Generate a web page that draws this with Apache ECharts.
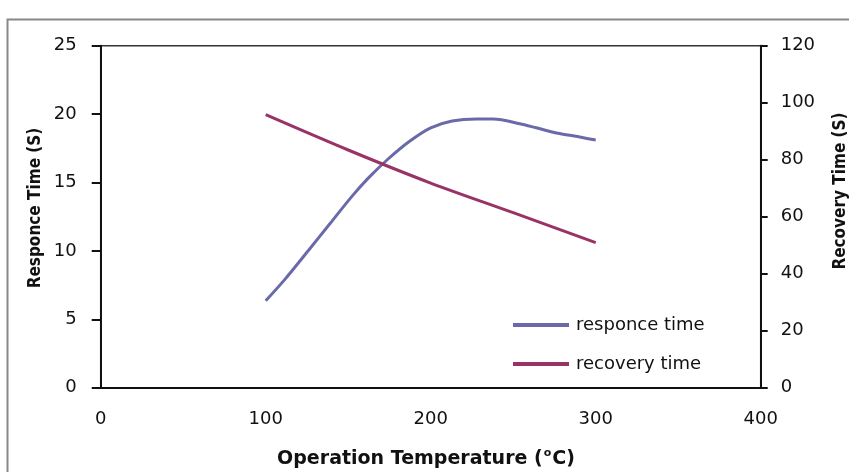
<!DOCTYPE html>
<html><head><meta charset="utf-8">
<script src="https://cdn.jsdelivr.net/npm/echarts@6/dist/echarts.min.js"></script>
<style>html,body{margin:0;padding:0;background:#fff}#c{width:849px;height:472px}</style>
</head><body><div id="c"></div>
<script>
const temps = [100, 111.5, 126, 139, 152, 162, 174, 187, 200, 213, 228, 238, 254, 264, 277, 287, 300];
const responceTime = [6.35, 7.9, 10.05, 12.0, 13.95, 15.3, 16.7, 18.0, 19.0, 19.5, 19.65, 19.65, 19.3, 19.0, 18.6, 18.4, 18.1];
const recTemps = [100, 150, 200, 250, 300];
const recoveryTime = [95.8, 83.4, 71.8, 61.4, 50.9];
const xTicks = [0, 100, 200, 300, 400];

const chart = echarts.init(document.getElementById('c'));
const tickFont = {fontFamily: 'DejaVu Sans', fontSize: 18, color: '#111'};
const narrowBold = 'bold 17px "Liberation Sans Narrow", "DejaVu Sans Condensed", sans-serif';
chart.setOption({
  animation: false,
  graphic: [
    {type: 'rect', shape: {x: 7.5, y: 19.5, width: 900, height: 500}, style: {fill: 'none', stroke: '#888', lineWidth: 2}, z: -1},
    {type: 'text', x: 36, y: 208, rotation: Math.PI/2,
     style: {text: 'Responce Time (S)', font: narrowBold, fill: '#111', textAlign: 'center', textVerticalAlign: 'middle'}},
    {type: 'text', x: 841, y: 191, rotation: Math.PI/2,
     style: {text: 'Recovery Time (S)', font: narrowBold, fill: '#111', textAlign: 'center', textVerticalAlign: 'middle'}},
    {type: 'text', x: 426, y: 459,
     style: {text: '{a|Operation Temperature (}{s|o}{a|C)}', fill: '#111', textAlign: 'center', textVerticalAlign: 'middle',
       rich: {a: {fontFamily: 'DejaVu Sans', fontWeight: 'bold', fontSize: 19, color: '#111', height: 22},
              s: {fontFamily: 'DejaVu Sans', fontWeight: 'bold', fontSize: 11, color: '#111', height: 22, padding: [0, 1, 12, 1]}}}}
  ],
  grid: {left: 100.7, right: 88.3, top: 45.7, bottom: 84.3, show: true, borderColor: '#333', borderWidth: 1.5},
  legend: {
    orient: 'vertical', left: 508, top: 311, itemWidth: 56, itemHeight: 4, itemGap: 21,
    icon: 'rect',
    textStyle: {fontFamily: 'DejaVu Sans', fontSize: 18, color: '#111', padding: [0, 0, 0, 2]},
    data: ['responce time', 'recovery time']
  },
  xAxis: {
    type: 'value', min: 0, max: 400, interval: 100,
    axisLine: {lineStyle: {color: '#111', width: 2}},
    axisTick: {show: false},
    axisLabel: {...tickFont, margin: 23, formatter: v => xTicks.includes(v) ? String(v) : ''},
    splitLine: {show: false}
  },
  yAxis: [
    {type: 'value', min: 0, max: 25, interval: 5, position: 'left',
     axisLine: {show: true, lineStyle: {color: '#111', width: 2}},
     axisTick: {show: true, length: 9, lineStyle: {color: '#111', width: 2}},
     axisLabel: {...tickFont, margin: 24},
     splitLine: {show: false}},
    {type: 'value', min: 0, max: 120, interval: 20, position: 'right',
     axisLine: {show: true, lineStyle: {color: '#111', width: 2}},
     axisTick: {show: true, length: 7, lineStyle: {color: '#111', width: 2}},
     axisLabel: {...tickFont, margin: 20},
     splitLine: {show: false}}
  ],
  series: [
    {name: 'responce time', type: 'line', yAxisIndex: 0, smooth: 0.3, showSymbol: false,
     lineStyle: {color: '#6A6AAA', width: 3}, itemStyle: {color: '#6A6AAA'},
     data: temps.map((t, i) => [t, responceTime[i]])},
    {name: 'recovery time', type: 'line', yAxisIndex: 1, smooth: 0.3, showSymbol: false,
     lineStyle: {color: '#993366', width: 3}, itemStyle: {color: '#993366'},
     data: recTemps.map((t, i) => [t, recoveryTime[i]])}
  ]
});
</script></body></html>
